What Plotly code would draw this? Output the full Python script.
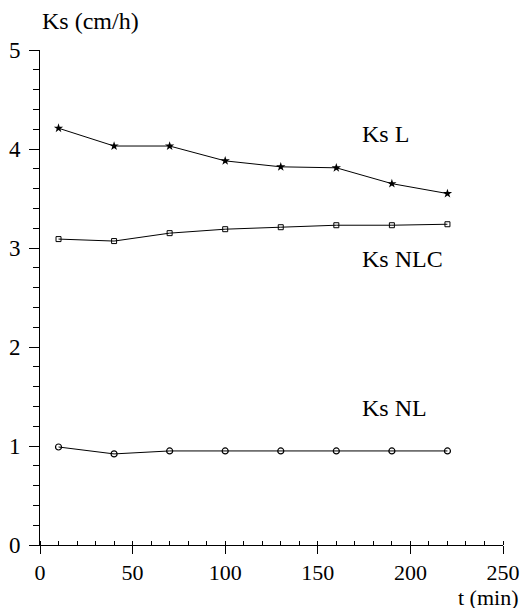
import plotly.graph_objects as go

# Sampling times (min)
t_min = [10, 40, 70, 100, 130, 160, 190, 220]

# Saturated hydraulic conductivity series (cm/h)
ks_l = [4.21, 4.03, 4.03, 3.88, 3.82, 3.81, 3.65, 3.55]
ks_nlc = [3.09, 3.07, 3.15, 3.19, 3.21, 3.23, 3.23, 3.24]
ks_nl = [0.99, 0.92, 0.95, 0.95, 0.95, 0.95, 0.95, 0.95]

series_names = ["Ks L", "Ks NLC", "Ks NL"]
label_pos = [(173, 4.15), (173, 2.89), (173, 1.38)]

FONT = "Liberation Serif, Times New Roman, serif"

fig = go.Figure()
fig.add_trace(go.Scatter(x=t_min, y=ks_l, mode="lines+markers", name=series_names[0],
                         line=dict(color="black", width=1),
                         marker=dict(symbol="star", size=7, color="black")))
fig.add_trace(go.Scatter(x=t_min, y=ks_nlc, mode="lines+markers", name=series_names[1],
                         line=dict(color="black", width=1),
                         marker=dict(symbol="square-open", size=5, color="black",
                                     line=dict(width=1))))
fig.add_trace(go.Scatter(x=t_min, y=ks_nl, mode="lines+markers", name=series_names[2],
                         line=dict(color="black", width=1),
                         marker=dict(symbol="circle-open", size=6, color="black",
                                     line=dict(width=1.2))))

for name, (lx, ly) in zip(series_names, label_pos):
    fig.add_annotation(x=lx, y=ly, text=name, showarrow=False, xanchor="left",
                       yanchor="middle", font=dict(family=FONT, size=24, color="black"))

fig.add_annotation(xref="paper", yref="paper", x=1, y=0, xshift=18, yshift=-38,
                   text="t (min)", showarrow=False, xanchor="right", yanchor="top",
                   font=dict(family=FONT, size=22, color="black"))
fig.add_annotation(xref="paper", yref="paper", x=0, y=1, yshift=14, text="Ks (cm/h)",
                   showarrow=False, xanchor="left", yanchor="bottom",
                   font=dict(family=FONT, size=24, color="black"))

fig.update_layout(
    width=522, height=608,
    margin=dict(l=40, r=19, t=50, b=63),
    paper_bgcolor="white", plot_bgcolor="white",
    showlegend=False,
    font=dict(family=FONT, size=23, color="black"),
)
fig.update_xaxes(range=[0, 250], tickvals=[0, 50, 100, 150, 200, 250],
                 automargin=False, tickfont=dict(size=22),
                 showgrid=False, zeroline=False, showline=True, linecolor="black",
                 linewidth=1, ticks="outside", ticklen=8, tickcolor="black",
                 minor=dict(dtick=10, ticks="inside", ticklen=4, tickcolor="black",
                            showgrid=False))
fig.update_yaxes(range=[0, 5], tickvals=[0, 1, 2, 3, 4, 5],
                 automargin=False,
                 showgrid=False, zeroline=False, showline=True, linecolor="black",
                 linewidth=1, ticks="outside", ticklen=10, tickcolor="black",
                 ticklabelstandoff=4,
                 minor=dict(dtick=0.2, ticks="outside", ticklen=6, tickcolor="black",
                            showgrid=False))

fig.write_html("out.html")
